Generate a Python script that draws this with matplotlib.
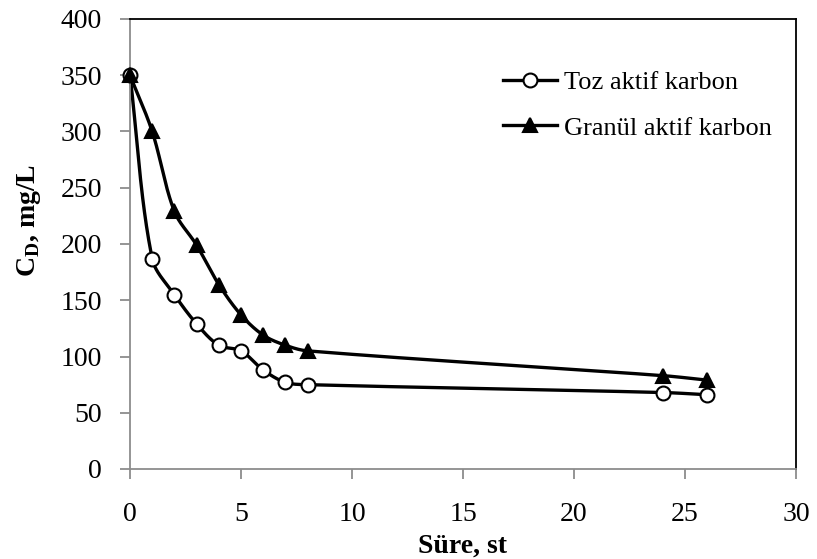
import matplotlib.pyplot as plt
import numpy as np

plt.rcParams['font.family'] = ['Liberation Serif', 'DejaVu Serif']
plt.rcParams['mathtext.fontset'] = 'custom'
plt.rcParams['mathtext.rm'] = 'Liberation Serif'
plt.rcParams['mathtext.bf'] = 'Liberation Serif:bold'

# Veriler
sure = [0, 1, 2, 3, 4, 5, 6, 7, 8, 24, 26]
toz = [350, 187, 155, 129, 110, 105, 88, 77, 75, 68, 66]
granul = [350, 300, 229, 199, 164, 137, 119, 110, 105, 83, 79]


def smooth(x, y, xr, yr, n=40):
    # Excel tarzı yumuşatma: teğet yönü komşulardan, uzunluk segmentten
    P = np.column_stack([np.asarray(x, float) * xr, np.asarray(y, float) * yr])
    N = len(P)
    T = np.zeros_like(P)
    for i in range(N):
        a = P[max(i - 1, 0)]
        b = P[min(i + 1, N - 1)]
        d = b - a
        T[i] = d / np.linalg.norm(d)
    out = []
    for i in range(N - 1):
        p1, p2 = P[i], P[i + 1]
        L = np.linalg.norm(p2 - p1)
        c1 = p1 + T[i] * L / 3
        c2 = p2 - T[i + 1] * L / 3
        t = np.linspace(0, 1, n)[:, None]
        seg = (1 - t) ** 3 * p1 + 3 * (1 - t) ** 2 * t * c1 + 3 * (1 - t) * t ** 2 * c2 + t ** 3 * p2
        out.append(seg)
    out = np.vstack(out)
    return out[:, 0] / xr, out[:, 1] / yr


fig = plt.figure(figsize=(8.17, 5.59), dpi=100)
ax = fig.add_axes([130 / 817, 90 / 559, 666 / 817, 450 / 559])

xr, yr = 22.2, 1.125
for yv, mk, fc, lab in [(toz, 'o', 'white', 'Toz aktif karbon'),
                        (granul, '^', 'black', 'Granül aktif karbon')]:
    sx, sy = smooth(sure, yv, xr, yr)
    ms = 10 if mk == 'o' else 9.5
    ax.plot(sx, sy, color='black', lw=2.4, zorder=2, clip_on=False)
    ax.plot(sure, yv, linestyle='none', marker=mk, ms=ms,
            mfc=fc, mec='black', mew=1.5, zorder=3, clip_on=False)
    ax.plot([], [], color='black', lw=2.4, marker=mk, ms=ms,
            mfc=fc, mec='black', mew=1.5, label=lab)

ax.set_xlim(0, 30)
ax.set_ylim(0, 400)
ax.set_xticks(range(0, 31, 5))
ax.set_yticks(range(0, 401, 50))
ax.tick_params(direction='out', length=7, width=1.3, color='#8c8c8c', labelsize=20)
ax.tick_params(axis='y', pad=13)
ax.tick_params(axis='x', pad=17)
ax.spines['left'].set_color('#8c8c8c')
ax.spines['bottom'].set_color('#8c8c8c')
for s in ax.spines.values():
    s.set_linewidth(1.3)

ax.set_xlabel('Süre, st', fontsize=20, fontweight='bold')
ax.xaxis.set_label_coords(0.5, (469 - 546) / 450)
ax.xaxis.label.set_va('center')
ax.set_ylabel(r'C$_\mathbf{D}$, mg/L', fontsize=20, fontweight='bold')
ax.yaxis.set_label_coords((29 - 130) / 666, (469 - 220) / 450)
ax.yaxis.label.set_va('center')

ax.legend(loc='upper left', bbox_to_anchor=(503 / 817, 1 - 71 / 559),
          bbox_transform=fig.transFigure, frameon=False, fontsize=19,
          borderpad=0, borderaxespad=0, handlelength=2.05, handletextpad=0.25,
          labelspacing=0.82)

fig.savefig('out.png', dpi=100)
